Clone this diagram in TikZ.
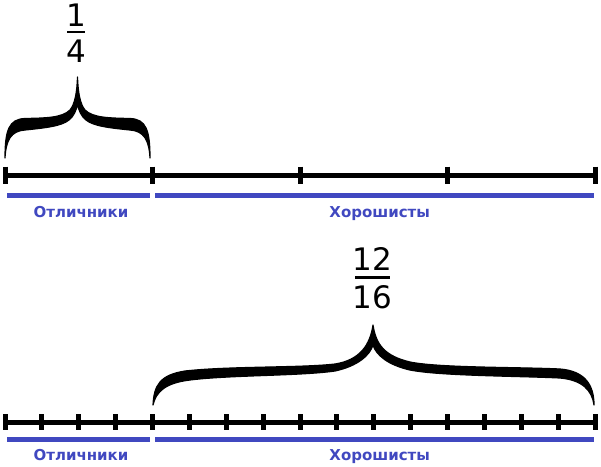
\documentclass[tikz,border=0pt]{standalone}
\usepackage{fontspec}
\setmainfont{DejaVu Sans}
\definecolor{lblue}{RGB}{64,72,192}
\tikzset{
  axis/.style={line width=5pt},
  tick/.style={line width=5pt},
  bluebar/.style={lblue, line width=5pt},
  lbl/.style={text=lblue, font=\fontsize{15}{17}\selectfont\bfseries, anchor=base, inner sep=0pt},
  frac/.style={font=\fontsize{31}{34}\selectfont, inner sep=0pt},
  fracbar/.style={line width=2.7pt},
  bracefill/.style={fill=black, draw=black, line width=1.2pt, line join=round}
}
\begin{document}
\begin{tikzpicture}[x=1pt,y=-1pt]
\useasboundingbox (0,0) rectangle (601,466);
% top fraction
\node[frac] (n1) at (76.5,14.7) {1};
\node[frac] (d1) at (76.5,51) {4};
\draw[fracbar] (67,32) -- (85,32);
% top brace
\filldraw[bracefill]
 (5,158) .. controls (5,130) and (9,119) .. (25,118.5)
 .. controls (45,118) and (62,118) .. (70,110)
 .. controls (75,104) and (77,92) .. (77.5,77)
 .. controls (78,92) and (80,104) .. (85,110)
 .. controls (93,118) and (110,118) .. (130,118.5)
 .. controls (146,119) and (150,130) .. (150,158)
 .. controls (149,140) and (144,131) .. (130,130)
 .. controls (110,128) and (93,126) .. (86,120)
 .. controls (81,116) and (78.5,110) .. (77.5,104)
 .. controls (76.5,110) and (74,116) .. (69,120)
 .. controls (62,126) and (45,128) .. (25,130)
 .. controls (11,131) and (6,140) .. (5,158) -- cycle;
% top axis
\coordinate (ta) at (5,175.2);
\coordinate (tb) at (595,175.2);
\draw[axis] (ta) -- (tb);
\foreach \i in {0,...,4} \draw[tick] ({5+147.5*\i},166.7) -- ({5+147.5*\i},184);
\draw[bluebar] (7,195) -- (150,195);
\draw[bluebar] (155,195) -- (594,195);
\node[lbl] (o1) at (81,217) {Отличники};
\node[lbl] (h1) at (379.7,217) {Хорошисты};
% bottom fraction
\node[frac] (n2) at (372.5,259) {12};
\node[frac] (d2) at (372.5,297.5) {16};
\draw[fracbar] (355,277.7) -- (390,277.7);
% bottom brace
\filldraw[bracefill]
 (153,405) .. controls (154,385) and (160,375) .. (185,371)
 .. controls (230,366) and (300,368) .. (335,364)
 .. controls (360,360) and (370,345) .. (373,325)
 .. controls (376,345) and (385,356) .. (410,362)
 .. controls (440,368) and (520,367) .. (560,369)
 .. controls (585,371) and (594,385) .. (594,405)
 .. controls (592,390) and (582,380) .. (560,378)
 .. controls (520,376) and (440,376) .. (410,370)
 .. controls (388,365) and (376,355) .. (373,345)
 .. controls (370,355) and (358,366) .. (335,371)
 .. controls (300,376) and (230,375) .. (190,380)
 .. controls (165,383) and (156,392) .. (153,405) -- cycle;
% bottom axis
\coordinate (ba) at (5,422);
\coordinate (bb) at (595,422);
\draw[axis] (ba) -- (bb);
\foreach \i in {0,...,16} \draw[tick] ({5+36.875*\i},414) -- ({5+36.875*\i},430);
\draw[bluebar] (7,439.5) -- (150,439.5);
\draw[bluebar] (155,439.5) -- (594,439.5);
\node[lbl] (o2) at (81,460) {Отличники};
\node[lbl] (h2) at (379.7,460) {Хорошисты};
\end{tikzpicture}
\end{document}
